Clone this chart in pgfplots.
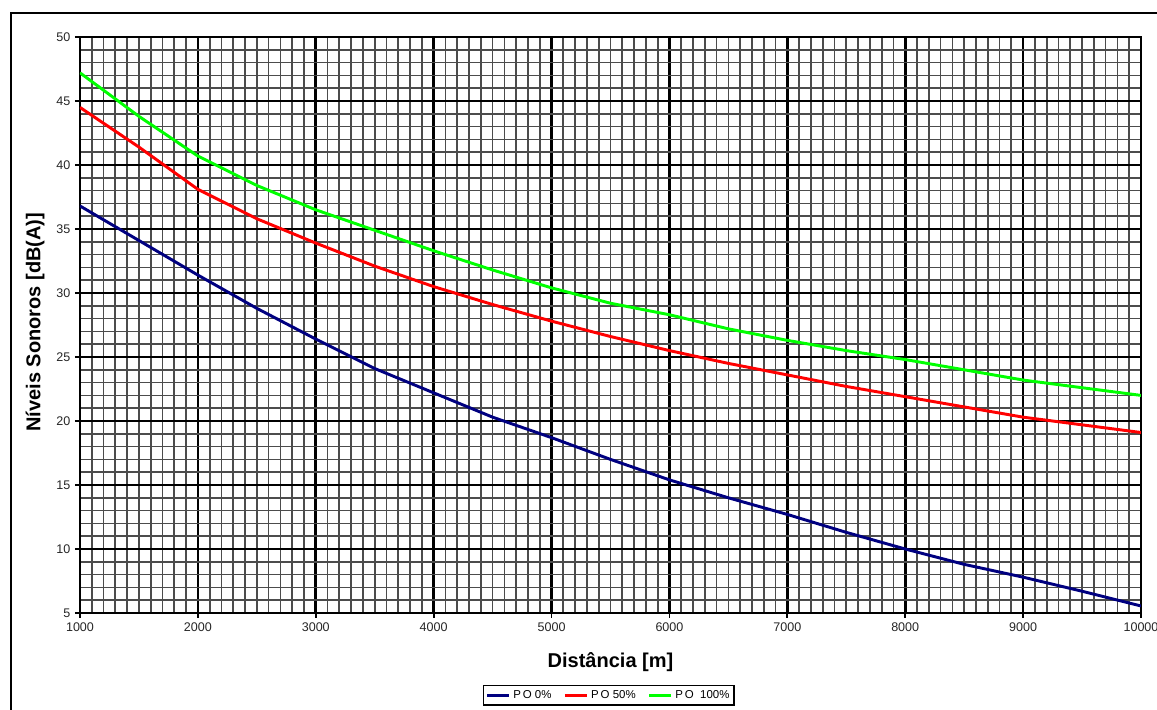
\documentclass[border=0pt]{standalone}
\usepackage{pgfplots}
\pgfplotsset{compat=1.18}
\usepackage{pgfplotstable}
\usepackage{fontspec}
\setmainfont{Liberation Sans}

\definecolor{po0}{RGB}{0,0,128}
\definecolor{po50}{RGB}{255,0,0}
\definecolor{po100}{RGB}{0,255,0}

% distance [m], PO 0%, PO 50%, PO 100%
\pgfplotstableread{
x     a     b     c
1000  36.8  44.5  47.2
1500  34.1  41.4  43.8
2000  31.4  38.1  40.7
2500  28.8  35.8  38.4
3000  26.4  33.9  36.5
3500  24.1  32.1  34.9
4000  22.2  30.5  33.3
4500  20.3  29.1  31.8
5000  18.7  27.8  30.4
5500  17.0  26.6  29.2
6000  15.4  25.5  28.3
6500  14.0  24.5  27.2
7000  12.7  23.6  26.3
7500  11.3  22.7  25.5
8000  10.0  21.9  24.8
8500  8.8   21.1  24.0
9000  7.8   20.3  23.2
9500  6.7   19.7  22.6
10000 5.55  19.1  22.0
}\niveis

\begin{document}
\begin{tikzpicture}[x=0.75pt, y=0.75pt]
\useasboundingbox (-80,-97) rectangle (1077,613);
\begin{axis}[
    at={(0,0)}, anchor=south west,
    scale only axis,
    width=795.75pt, height=432pt,
    xmin=1000, xmax=10000, ymin=5, ymax=50,
    xtick={1000,2000,...,10000},
    ytick={5,10,...,50},
    minor x tick num=9, minor y tick num=4,
    grid=both,
    major grid style={black, line width=2pt},
    minor grid style={black!70, line width=1.3pt},
    axis line style={black, line width=1.5pt},
    tick align=outside, major tick length=3.75pt, minor tick length=0pt,
    tick style={black, line width=1.3pt},
    xtick pos=bottom, ytick pos=left,
    scaled x ticks=false,
    /pgf/number format/1000 sep={},
    /pgf/number format/assume math mode=true,
    tick label style={font=\fontsize{9.4}{10}\selectfont, text=black!85},
    xlabel={\textbf{Distância [m]}},
    ylabel={\textbf{Níveis Sonoros [dB(A)]}},
    label style={font=\fontsize{15}{17}\selectfont},
    xlabel style={at={(axis description cs:0.5,-0.0851)}, anchor=center},
    ylabel style={at={(axis description cs:-0.0424,0.505)}, anchor=center},
    legend columns=3,
    legend style={at={(axis description cs:0.4985,-0.1432)}, anchor=center,
        draw=black, line width=1pt, inner sep=1.5pt,
        font=\fontsize{8.6}{9}\selectfont,
        /tikz/every even column/.append style={column sep=7pt}},
    legend image code/.code={\draw[#1] (0pt,0pt) -- (16.5pt,0pt);},
]
\addplot[po0, line width=2.2pt] table[x=x, y=a] {\niveis};
\addlegendentry{P\,O 0\%}
\addplot[po50, line width=2.2pt] table[x=x, y=b] {\niveis};
\addlegendentry{P\,O 50\%}
\addplot[po100, line width=2.2pt] table[x=x, y=c] {\niveis};
\addlegendentry{P\,O\ \ 100\%}
\end{axis}
% outer chart frame
\draw[black, line width=2.2pt] (-69,-97) -- (-69,600) -- (1077,600);
\end{tikzpicture}
\end{document}
